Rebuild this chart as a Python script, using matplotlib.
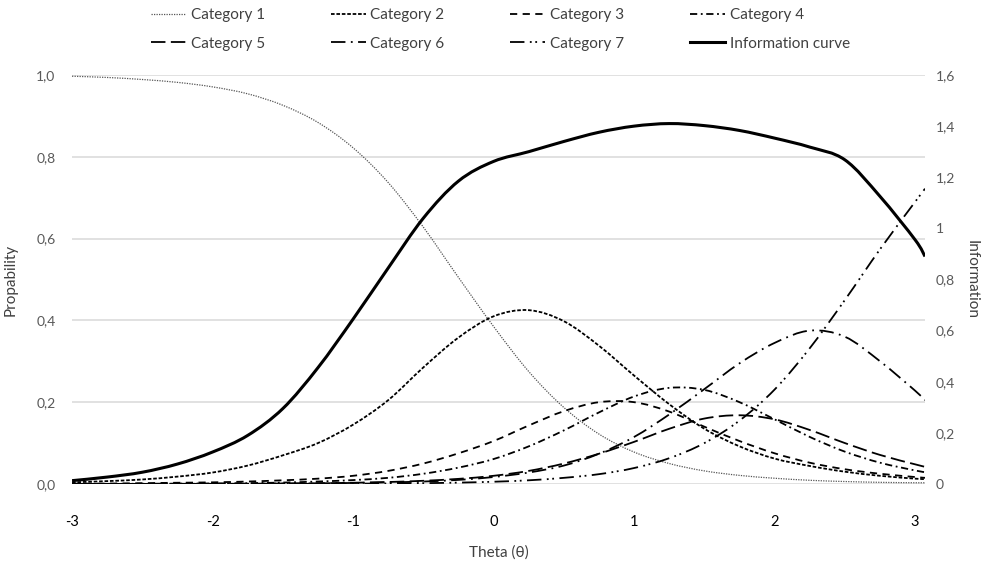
import matplotlib
matplotlib.use("Agg")
import matplotlib.pyplot as plt
from matplotlib.path import Path
from matplotlib.patches import PathPatch
from matplotlib.ticker import FixedLocator, FuncFormatter

# values
theta = [-3.0, -2.75, -2.5, -2.25, -2.0, -1.75, -1.5, -1.25, -1.0, -0.75,
         -0.5, -0.25, 0.0, 0.25, 0.5, 0.75, 1.0, 1.25, 1.5, 1.75,
         2.0, 2.25, 2.5, 2.75, 3.0, 3.07]

cat1 = [.997, .994, .989, .982, .971, .954, .926, .884, .822, .737,
        .628, .505, .385, .275, .187, .122, .078, .05, .032, .021,
        .014, .009, .006, .004, .003, .003]
cat2 = [.004, .007, .011, .018, .028, .045, .07, .10, .145, .205,
        .285, .358, .41, .425, .398, .338, .265, .195, .135, .092,
        .062, .044, .03, .02, .013, .012]
cat3 = [.001, .001, .002, .003, .004, .006, .009, .013, .02, .032,
        .05, .075, .105, .143, .178, .2, .2, .177, .14, .105,
        .075, .052, .036, .025, .017, .015]
cat4 = [.0002, .0003, .0005, .0008, .0013, .002, .0035, .006, .0095, .015,
        .025, .04, .061, .092, .131, .175, .214, .235, .23, .2,
        .158, .115, .079, .052, .033, .029]
cat5 = [.0001, .0001, .0002, .0003, .0004, .0007, .0011, .0018, .003, .0048,
        .0078, .0125, .02, .032, .05, .074, .103, .135, .16, .168,
        .158, .132, .1, .071, .048, .042]
cat6 = [0, .0001, .0002, .0003, .0004, .0006, .001, .0016, .0025, .004,
        .006, .01, .017, .028, .045, .074, .115, .17, .232, .295,
        .345, .375, .36, .30, .228, .205]
cat7 = [0, 0, 0, 0, .0001, .0001, .0003, .0004, .0008, .0012,
        .002, .0033, .0055, .009, .015, .024, .039, .063, .10, .155,
        .231, .332, .45, .574, .69, .722]
information = [.013, .027, .046, .078, .125, .19, .295, .455, .645, .845,
               1.04, 1.185, 1.262, 1.30, 1.34, 1.376, 1.40, 1.41, 1.402, 1.383,
               1.353, 1.318, 1.268, 1.125, .955, .89]

categories = ["Category 1", "Category 2", "Category 3", "Category 4",
              "Category 5", "Category 6", "Category 7"]
dash_styles = [(0, (1, 1)), (0, (2, 1)), (0, (4, 3)), (0, (4, 2, 1, 2)),
               (0, (8, 3)), (0, (8, 3, 1, 3)), (0, (8, 3, 1, 2, 1, 3))]

plt.rcParams["font.family"] = ["Lato", "DejaVu Sans"]
plt.rcParams["axes.unicode_minus"] = False

TICK_COLOR = "#595959"
LABEL_COLOR = "#404040"


def comma(v, _pos):
    return f"{v:.1f}".replace(".", ",")


def comma_short(v, _pos):
    if abs(v - round(v)) < 1e-9:
        return f"{int(round(v))}"
    return f"{v:.1f}".replace(".", ",")


def smooth_path(xs, ys):
    # spreadsheet-style smoothed line: cubic Bezier through every data point
    verts = [(xs[0], ys[0])]
    codes = [Path.MOVETO]
    n = len(xs)
    for i in range(n - 1):
        x0, y0 = (xs[i - 1], ys[i - 1]) if i > 0 else (xs[i], ys[i])
        x1, y1 = xs[i], ys[i]
        x2, y2 = xs[i + 1], ys[i + 1]
        x3, y3 = (xs[i + 2], ys[i + 2]) if i + 2 < n else (x2, y2)
        c1 = (x1 + (x2 - x0) / 6, y1 + (y2 - y0) / 6)
        c2 = (x2 - (x3 - x1) / 6, y2 - (y3 - y1) / 6)
        verts += [c1, c2, (x2, y2)]
        codes += [Path.CURVE4] * 3
    return Path(verts, codes)


def draw_series(ax, xs, ys, name, **style):
    ax.add_patch(PathPatch(smooth_path(xs, ys), fill=False, capstyle="butt",
                           **style))
    (proxy,) = ax.plot([], [], label=name, **style)
    return proxy


def main():
    fig = plt.figure(figsize=(9.91, 5.61), dpi=100)
    ax = fig.add_axes([0.0727, 0.1373, 0.8607, 0.729])
    ax2 = ax.twinx()

    handles = []
    for series, name, style in zip(
        [cat1, cat2, cat3, cat4, cat5, cat6, cat7], categories, dash_styles
    ):
        color = "#555555" if name == "Category 1" else "black"
        lw = 0.9 if name == "Category 1" else 1.3
        handles.append(draw_series(ax, theta, series, name, color=color,
                                   lw=lw, linestyle=style))
    handles.append(draw_series(ax2, theta, information, "Information curve",
                               color="black", lw=2.2, linestyle="-"))

    ax.set_xlim(-3, 3.07)
    ax.set_ylim(0, 1.0)
    ax2.set_ylim(0, 1.6)

    ax.xaxis.set_major_locator(FixedLocator([-3, -2, -1, 0, 1, 2, 3]))
    ax.yaxis.set_major_locator(FixedLocator([0, .2, .4, .6, .8, 1.0]))
    ax.yaxis.set_major_formatter(FuncFormatter(comma))
    ax2.yaxis.set_major_locator(FixedLocator([0, .2, .4, .6, .8, 1.0, 1.2, 1.4, 1.6]))
    ax2.yaxis.set_major_formatter(FuncFormatter(comma_short))

    ax.grid(axis="y", color="#d9d9d9", lw=1.1)
    ax.set_axisbelow(True)
    for a in (ax, ax2):
        for s in a.spines.values():
            s.set_visible(False)
        a.tick_params(length=0, labelsize=10, labelcolor=TICK_COLOR)
    ax.tick_params(axis="x", pad=22, labelcolor="black", labelsize=10.5)
    ax.tick_params(axis="y", pad=12)
    ax2.tick_params(axis="y", pad=8)

    ax.set_xlabel("Theta (θ)", fontsize=11, color=LABEL_COLOR)
    ax.set_ylabel("Propability", fontsize=11, color=LABEL_COLOR)
    ax2.set_ylabel("Information", fontsize=11, color=LABEL_COLOR, rotation=-90)
    ax.xaxis.set_label_coords(0.5, -0.15)
    ax.yaxis.set_label_coords(-0.064, 0.5)
    ax2.yaxis.set_label_coords(1.063, 0.5)

    order = [0, 4, 1, 5, 2, 6, 3, 7]
    fig.legend([handles[i] for i in order], [handles[i].get_label() for i in order],
               loc="upper center", bbox_to_anchor=(0.505, 1.01), ncol=4,
               frameon=False, fontsize=11, handlelength=2.3, handletextpad=0.3,
               columnspacing=4.3, labelspacing=0.95, labelcolor=LABEL_COLOR)

    fig.savefig("out.png", dpi=100, facecolor="white")


if __name__ == "__main__":
    main()
